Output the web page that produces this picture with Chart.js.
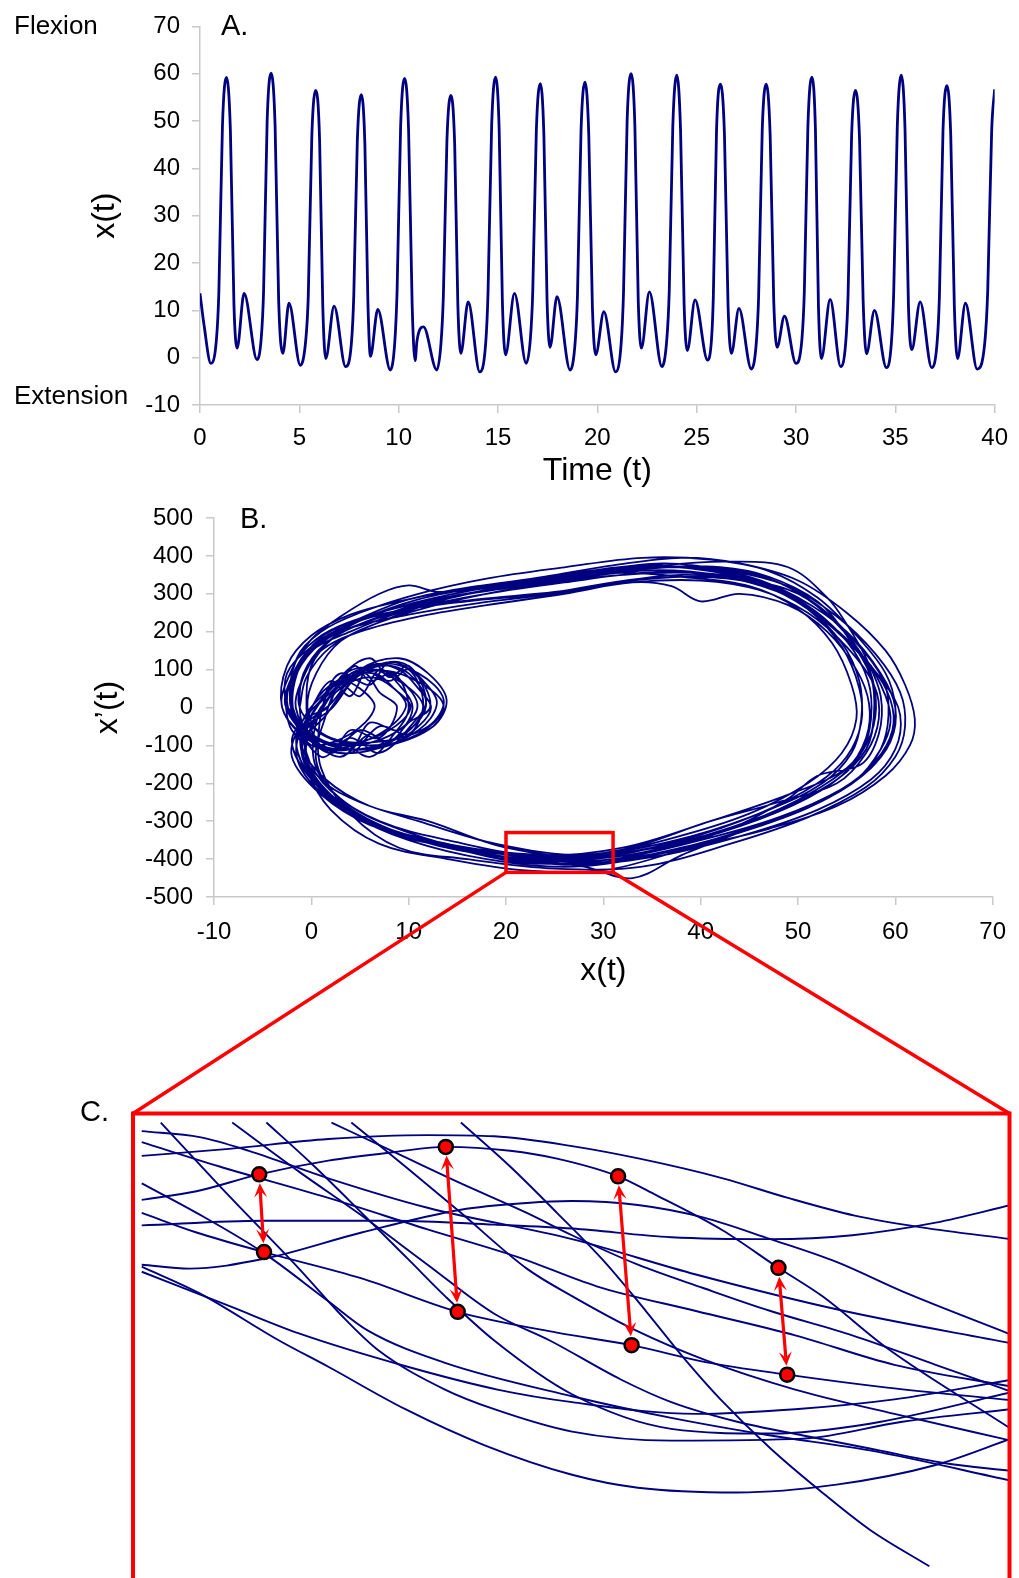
<!DOCTYPE html>
<html>
<head>
<meta charset="utf-8">
<script src="https://cdn.jsdelivr.net/npm/chart.js"></script>
<style>
  html, body { margin: 0; padding: 0; overflow: hidden; background: #fff; }
  #wrap { position: relative; width: 1019px; height: 1578px; font-family: "Liberation Sans", Arial, sans-serif; color: #000; }
  #wrap canvas { position: absolute; left: 0; }
  .lbl { position: absolute; white-space: nowrap; line-height: 1; transform: translateY(-50%); }
</style>
</head>
<body>
<div id="wrap">
  <canvas id="chartA" width="1019" height="490" style="top:0"></canvas>
  <canvas id="chartB" width="1019" height="500" style="top:490px"></canvas>
  <canvas id="chartC" width="1019" height="540" style="top:1104px"></canvas>
  <canvas id="overlay" width="1019" height="1578" style="top:0;pointer-events:none"></canvas>
  <div class="lbl" style="left:14px;top:25px;font-size:26px">Flexion</div>
  <div class="lbl" style="left:14px;top:395px;font-size:26px">Extension</div>
  <div class="lbl" style="left:221px;top:25px;font-size:29px">A.</div>
  <div class="lbl" style="left:240px;top:518px;font-size:29px">B.</div>
  <div class="lbl" style="left:80px;top:1111px;font-size:29px">C.</div>
</div>
<script>
// Panel A: joint angle over time (troughs, peaks, notches, humps)
const timeT = [
  0, 0.2, 0.55,
  0.83, 0.95, 1.13, 1.33, 1.53, 1.71, 1.87, 2.22, 2.87,
  3.08, 3.2, 3.38, 3.58, 3.78, 3.96, 4.17, 4.48, 5.05,
  5.33, 5.45, 5.63, 5.83, 6.02, 6.18, 6.33, 6.75, 7.33,
  7.62, 7.74, 7.92, 8.12, 8.3, 8.45, 8.58, 8.95, 9.58,
  9.8, 9.92, 10.1, 10.3, 10.5, 10.68, 10.83, 10.92, 11.25, 11.92,
  12.13, 12.25, 12.43, 12.63, 12.82, 12.98, 13.13, 13.5, 14.08,
  14.38, 14.5, 14.68, 14.88, 15.06, 15.22, 15.38, 15.83, 16.42,
  16.63, 16.75, 16.93, 17.13, 17.31, 17.47, 17.62, 17.97, 18.63,
  18.88, 19.0, 19.18, 19.38, 19.57, 19.75, 19.92, 20.33, 20.92,
  21.2, 21.32, 21.5, 21.7, 21.89, 22.06, 22.22, 22.62, 23.25,
  23.5, 23.62, 23.8, 24.0, 24.19, 24.37, 24.53, 24.92, 25.55,
  25.75, 25.84, 26.0, 26.2, 26.4, 26.58, 26.75, 27.13, 27.75,
  28.0, 28.12, 28.3, 28.5, 28.7, 28.88, 29.05, 29.42, 30.0,
  30.3, 30.42, 30.6, 30.8, 30.98, 31.13, 31.28, 31.72, 32.25,
  32.5, 32.62, 32.8, 33.0, 33.2, 33.38, 33.55, 33.95, 34.55,
  34.8, 34.92, 35.1, 35.3, 35.49, 35.66, 35.83, 36.25, 36.83,
  37.1, 37.22, 37.4, 37.6, 37.79, 37.97, 38.13, 38.53, 39.12,
  39.5, 39.65, 39.85, 40
];
const flexX = [
  13.6, 7, -1.2,
  4, 14, 49, 59.2, 48, 11, 2.0, 13.6, -0.4,
  4, 14, 50, 60.1, 49, 12, 0.9, 11.5, -1.6,
  4, 13, 47, 56.5, 46, 11, -0.2, 10.9, -1.9,
  3, 13, 46, 55.6, 45, 12, 0.3, 10.2, -2.6,
  3, 14, 49, 59.0, 48, 11, -0.6, 3.5, 6.5, -2.6,
  3, 13, 46, 55.4, 45, 11, 0.9, 11.8, -3.0,
  3, 14, 49, 59.3, 48, 12, 0.6, 13.6, -1.2,
  4, 14, 48, 57.9, 47, 12, 2.2, 12.9, -2.6,
  3, 13, 48, 58.2, 47, 11, 0.6, 9.7, -3.0,
  3, 14, 50, 60.0, 49, 12, 2.0, 13.9, -1.9,
  4, 14, 49, 59.7, 48, 11, 1.5, 12.2, -0.5,
  4, 13, 48, 57.8, 47, 11, 0.9, 10.4, -2.4,
  3, 13, 48, 57.8, 47, 12, 2.2, 8.8, -1.2,
  4, 14, 49, 59.3, 48, 11, -0.2, 12.3, -1.9,
  3, 13, 47, 56.5, 46, 12, 0.8, 10.0, -2.1,
  3, 14, 49, 59.7, 48, 11, 1.7, 11.8, -2.1,
  3, 13, 48, 57.5, 47, 11, -0.2, 11.5, -2.4,
  3, 14, 48, 56.7
];

// Panel B: phase portrait, one loop per movement cycle, [x(t), x'(t)]
const phaseLoops = [
  [[-1.2,0],[-0.5,80],[2,160],[6,215],[12,265],[19,305],[27,340],[35,362],[42,348],[48,305],[53,225],[57,125],[59,30],[59.5,-40],[58.5,-110],[56,-190],[50,-275],[42,-345],[33,-395],[24,-405],[15,-370],[8,-320],[3,-245],[0.5,-140],[1.5,-20],[2.5,40],[6,95],[10,80],[13.6,5],[11,-70],[6,-100],[1,-70],[-0.4,0]],
  [[-0.4,0],[0.5,90],[3,175],[7,225],[13,280],[20,320],[28,355],[36,380],[43,360],[49,320],[54,240],[58,140],[60.5,40],[61,-50],[60,-130],[57,-210],[51,-290],[43,-360],[34,-420],[25,-425],[16,-400],[9,-370],[4,-280],[1,-160],[0.9,-30],[2,50],[5,105],[9,70],[11.5,0],[9,-80],[4,-110],[0,-70],[-1.6,0]],
  [[-1.6,0],[-1,70],[1,150],[5,200],[11,240],[18,270],[26,300],[33,330],[37,320],[40,280],[44,300],[49,270],[53,200],[56,100],[57.3,10],[57,-80],[55,-160],[49,-230],[41,-300],[32,-370],[23,-390],[14,-350],[7,-300],[2,-220],[-0.5,-120],[-0.2,-15],[2,60],[6,100],[9,75],[10.9,0],[8,-75],[3,-100],[-0.5,-60],[-1.9,0]],
  [[-1.9,0],[-1.5,100],[1,185],[5,235],[10,285],[17,320],[25,345],[33,370],[40,365],[46,330],[51,260],[54.5,160],[56.3,50],[56.5,-40],[55,-130],[52,-200],[46,-280],[38,-350],[29,-395],[20,-370],[12,-300],[6,-260],[1.5,-190],[-1,-100],[0.3,-10],[3,70],[6.5,90],[8.5,50],[10.2,0],[8,-60],[4,-95],[0,-80],[-2.6,0]],
  [[-2.6,0],[-2,70],[0,150],[4,200],[9,250],[16,300],[24,335],[32,365],[39,370],[45,345],[50,290],[55,200],[58.5,90],[60,0],[59.5,-90],[57,-170],[52,-250],[45,-320],[38,-390],[33,-450],[28,-420],[20,-395],[12,-350],[6,-300],[1,-210],[-1.5,-110],[-0.6,-20],[1.5,40],[3,70],[5,50],[6.5,0],[4,-70],[0,-100],[-2,-60],[-2.6,0]],
  [[-2.6,0],[-2.5,90],[0,160],[5,230],[11,285],[18,320],[25,340],[32,355],[38,345],[45,320],[50,260],[53.5,170],[55.5,60],[56,-30],[54.5,-120],[51,-200],[45,-280],[37,-345],[28,-395],[19,-385],[11,-345],[5,-290],[0.5,-190],[-1,-90],[0.9,-10],[3,60],[7,110],[10,90],[11.8,10],[10,-60],[5,-110],[0,-90],[-3.0,0]],
  [[-3.0,0],[-2,100],[0,180],[3,240],[7,300],[10,322],[13,305],[18,315],[26,350],[34,375],[41,360],[47,325],[52,250],[56,150],[59,60],[60.5,-20],[60,-110],[57.5,-190],[52,-270],[44,-340],[35,-395],[26,-415],[17,-380],[10,-330],[4,-260],[0.5,-160],[0.6,-30],[3,60],[7,115],[11,90],[13.6,20],[12,-50],[7,-90],[2,-80],[-1.2,0]],
  [[-1.2,0],[-0.5,100],[2,180],[6,230],[12,280],[20,315],[28,345],[36,375],[43,385],[49,370],[53,290],[55,220],[57,130],[58.5,30],[58.3,-70],[56.5,-150],[52,-180],[49,-240],[43,-320],[35,-380],[26,-400],[17,-385],[9,-335],[3,-265],[0,-170],[-0.5,-60],[2.2,0],[5,90],[9,120],[11.5,70],[12.9,10],[11,-60],[6,-110],[1,-90],[-2.6,0]],
  [[-2.6,0],[-2,80],[0.5,165],[4,210],[10,245],[17,275],[25,300],[33,330],[40,335],[46,310],[51,250],[55,160],[57.8,60],[58.3,-30],[57,-120],[54,-200],[48,-250],[41,-300],[32,-375],[23,-395],[14,-360],[7,-310],[2,-230],[-0.5,-130],[0.5,-20],[3,50],[6,80],[8.5,50],[9.7,0],[7,-70],[2,-110],[-1,-70],[-3.0,0]],
  [[-3.0,0],[-2.5,110],[0,190],[4,245],[9,280],[16,315],[24,345],[31,375],[38,395],[44,380],[50,335],[55,250],[59,150],[61,60],[62,-30],[61.5,-100],[59,-180],[54,-260],[47,-320],[39,-370],[30,-430],[22,-430],[14,-400],[7,-360],[2,-270],[-0.5,-160],[-1,-60],[2,10],[5,100],[9,130],[12,90],[13.9,20],[12.5,-50],[8,-100],[3,-120],[0,-80],[-1.9,0]],
  [[-1.9,0],[-1,120],[1.5,195],[5,235],[10,270],[17,305],[25,330],[32,350],[39,355],[45,330],[50,280],[54,200],[57.5,110],[59.5,20],[59.7,-60],[58,-140],[54.5,-215],[48,-290],[40,-350],[31,-400],[22,-410],[13,-360],[6,-310],[1,-230],[-2,-130],[-1,-40],[1,20],[3,90],[6,60],[8,120],[11,80],[12.2,0],[10,-40],[8,-90],[5,-60],[2,-120],[0,-60],[-0.5,0]],
  [[-0.5,0],[0,110],[2.5,190],[6,240],[12,285],[19,320],[27,350],[35,370],[42,370],[47,345],[52,280],[55,190],[57.5,80],[57.8,-20],[57,-110],[54,-190],[49,-260],[42,-330],[33,-380],[24,-395],[15,-370],[8,-330],[3,-260],[-0.5,-170],[-1.5,-70],[0.9,-10],[3,60],[5,30],[7,100],[9,60],[10.4,0],[9,-60],[6,-40],[4,-110],[0,-90],[-2.4,0]],
  [[-2.4,0],[-2,80],[0,160],[4,220],[9,255],[16,280],[24,300],[31,330],[38,350],[45,335],[50,300],[54,220],[57,120],[58,20],[57.5,-70],[55.5,-150],[51,-230],[45,-300],[37,-360],[28,-390],[19,-360],[11,-300],[5,-250],[1,-190],[-1,-100],[1.5,-20],[3.5,50],[5.5,90],[7,40],[8.8,0],[7,-80],[4,-60],[2,-120],[-0.5,-70],[-1.2,0]],
  [[-1.2,0],[-0.8,90],[1.5,170],[5,220],[11,270],[18,310],[26,340],[34,365],[41,370],[47,340],[52,270],[56,170],[58.8,70],[59.3,-20],[58.5,-110],[56,-190],[51,-265],[44,-330],[36,-385],[27,-420],[18,-400],[10,-350],[4,-280],[0,-190],[-2,-90],[-0.2,-10],[2,70],[4,30],[6,110],[9,100],[11,50],[12.3,0],[11,-50],[8,-100],[6,-70],[3,-130],[0,-80],[-1.9,0]],
  [[-1.9,0],[-1.8,110],[0.5,180],[4,225],[10,260],[17,285],[25,305],[33,335],[40,345],[46,325],[51,260],[54.5,170],[56.3,70],[56.5,-30],[55.5,-120],[52.5,-200],[47,-270],[39,-340],[30,-385],[21,-385],[12,-350],[6,-300],[1.5,-220],[-1,-120],[0.8,-20],[2.5,50],[4.5,110],[6,70],[8.5,90],[10,0],[8.5,-70],[6,-130],[3,-90],[0,-100],[-2.1,0]],
  [[-2.1,0],[-1.5,130],[1,200],[5,250],[11,300],[18,340],[26,370],[34,395],[41,390],[47,360],[52,290],[56,190],[59,90],[60,0],[59.5,-80],[57.5,-160],[53,-240],[46,-310],[38,-370],[29,-410],[20,-400],[12,-355],[6,-305],[1,-225],[-1.5,-130],[-0.5,-30],[1.7,0],[3,80],[6,130],[8,80],[10,110],[11.8,20],[10.5,-40],[7,-120],[4,-80],[1,-130],[-2.1,0]],
  [[-2.1,0],[-1.5,90],[1,170],[5,220],[11,265],[18,300],[26,330],[34,355],[40,355],[46,330],[51,265],[55,175],[57.2,70],[57.5,-30],[56.5,-120],[53.5,-200],[48,-275],[40,-345],[31,-395],[22,-400],[13,-360],[7,-310],[2,-235],[-0.5,-140],[-0.2,-30],[2,40],[5,100],[8,70],[10,100],[11.5,10],[10,-70],[7,-50],[4,-120],[0,-90],[-2.4,0]]
];

// zoom window drawn on panel B
const zoomBoxX = [20, 31];
const zoomBoxY = [-435, -330];

// Panel C: trajectory pieces inside the zoom window, [x(t), x'(t)]
const zoomCurves = [
  [[20.11,-340.8],[21.21,-339],[22.46,-336.5],[23.71,-335.5],[24.55,-335.8],[25.53,-338.3],[26.38,-341.5],[27.43,-346.5],[28.25,-351.5],[29.09,-356],[29.93,-359],[31.06,-362]],
  [[20.11,-352],[20.80,-349.8],[21.59,-345.5],[22.46,-342],[23.30,-339.8],[23.94,-338.5],[24.75,-339.5],[25.34,-341.5],[26.11,-346],[26.59,-350.8],[27.43,-359.8],[28.13,-369.3],[28.68,-376.5],[29.50,-389.8],[31.06,-410.3]],
  [[20.11,-368.5],[20.71,-369.5],[21.65,-367],[22.88,-360.3],[24.13,-354.5],[24.96,-352.8],[25.53,-352.3],[26.36,-353.3],[27.19,-356.5],[28.03,-362],[28.86,-367.8],[29.69,-375.3],[31.06,-386.3]],
  [[20.11,-355.3],[20.80,-360.3],[21.65,-365.3],[22.88,-372],[24.09,-380.5],[25.34,-385.8],[26.28,-389],[27.21,-393.3],[28.24,-396.5],[29.50,-399.8],[31.06,-403]],
  [[20.11,-358.5],[21.63,-357.3],[23.30,-357.3],[24.55,-358.3],[25.53,-359.3],[26.78,-361.5],[28.03,-362],[29.06,-361],[30.11,-357.8],[31.06,-353.3]],
  [[20.11,-334.5],[20.84,-336],[21.46,-339.5],[22.46,-346.5],[23.71,-354],[25.53,-362],[27.09,-371],[28.96,-380.3],[31.06,-388.5]],
  [[20.11,-337.3],[21.09,-343.5],[22.46,-351.5],[23.71,-359.5],[24.84,-366.5],[25.84,-374],[27.09,-380.3],[28.34,-386.5],[29.59,-394],[31.06,-399.5]],
  [[20.35,-332.3],[21.21,-351],[22.09,-369.5],[22.63,-381.5],[23.09,-390.3],[23.93,-400.3],[24.55,-405.3],[25.53,-411],[26.78,-413.3],[28.44,-412.8],[29.69,-408.5],[31.06,-405.3]],
  [[20.11,-347.8],[20.80,-355.3],[21.63,-365.3],[22.46,-377.8],[22.96,-385.3],[23.93,-393.5],[25.53,-402],[26.78,-407.5],[28.03,-412],[29.28,-415.8],[31.06,-423.5]],
  [[21.68,-332.3],[22.25,-342.8],[22.88,-355.3],[23.50,-367.8],[23.93,-376.5],[24.55,-387.8],[25.53,-401.5],[26.78,-410.3],[28.03,-411.5],[29.28,-409],[31.06,-401]],
  [[21.25,-332.3],[22.09,-344.8],[22.88,-356],[23.71,-368.5],[24.55,-381],[25.25,-387.8],[26.15,-397.8],[26.78,-403.5],[27.61,-408.5],[28.44,-412],[29.28,-415.3],[30.21,-419],[31.06,-421]],
  [[22.50,-332.3],[23.34,-340.3],[24.13,-347.8],[24.96,-355.3],[25.53,-361],[26.36,-368.5],[27.19,-374.5],[28.03,-380.3],[29.06,-386.5],[30.11,-394],[31.06,-400.8]],
  [[24.13,-332.3],[24.75,-343.5],[25.34,-355.3],[25.94,-367.8],[26.46,-380.3],[26.96,-392.8],[27.40,-402.8],[28.03,-415.3],[28.65,-426],[29.28,-436],[30.03,-445.3]],
  [[22.75,-332.3],[23.46,-344],[24.13,-355.3],[24.96,-369.5],[25.53,-376.5],[26.34,-385.3],[27.21,-392.8],[28.34,-400.3],[29.59,-406.5],[31.06,-413.3]],
  [[20.11,-369],[20.84,-375.8],[21.84,-387.8],[22.46,-394.5],[23.43,-405.3],[24.43,-414.5],[25.53,-422],[26.36,-425.3],[27.61,-426.5],[28.86,-424.5],[30.11,-419.5],[31.06,-412.8]],
  [[20.11,-370.3],[21.21,-379],[22.09,-386],[23.46,-394.5],[24.59,-400.3],[25.53,-403.5],[27.09,-406.5],[28.34,-405.3],[29.59,-402.8],[31.06,-397.8]]
];

// marked point pairs in panel C (upper end, lower end)
const arrowTops = [[21.59,-345.5],[23.94,-338.5],[26.11,-346],[28.13,-369.3]];
const arrowBottoms = [[21.65,-365.3],[24.09,-380.5],[26.28,-389],[28.24,-396.5]];

const NAVY = '#000080';
const RED = '#ff0000';
const AXIS_GREY = '#c9c9c9';
const FONT = '"Liberation Sans", Arial, sans-serif';

Chart.defaults.font.family = FONT;
Chart.defaults.color = '#000';

function axis(min, max, step, extra) {
  return Object.assign({
    type: 'linear', min: min, max: max,
    ticks: { stepSize: step, font: { size: 24 }, color: '#000' },
    grid: { drawOnChartArea: false, drawTicks: true, tickLength: 8, color: AXIS_GREY, lineWidth: 1.5 },
    border: { color: AXIS_GREY, width: 1.5 }
  }, extra);
}

const baseOpts = {
  responsive: false,
  animation: false,
  events: [],
  plugins: { legend: { display: false }, tooltip: { enabled: false } }
};

// ---- A ----
const chartA = new Chart(document.getElementById('chartA'), {
  type: 'scatter',
  data: {
    datasets: [{
      data: timeT.map((t, i) => ({ x: t, y: flexX[i] })),
      showLine: true, pointRadius: 0, borderColor: NAVY, borderWidth: 2.8,
      cubicInterpolationMode: 'monotone'
    }]
  },
  options: Object.assign({}, baseOpts, {
    layout: { padding: { top: 26, right: 20, left: 0, bottom: 0 } },
    scales: {
      x: axis(0, 40, 5, {
        afterFit: s => { s.height = 85; },
        title: { display: true, text: 'Time (t)', font: { size: 32 }, padding: { top: 0, bottom: 0 } }
      }),
      y: axis(-10, 70, 10, {
        afterFit: s => { s.width = 200; },
        title: { display: true, text: 'x(t)', font: { size: 32 }, padding: { top: 86, bottom: 0 } }
      })
    }
  })
});
chartA.options.scales.x.ticks.padding = 11;
chartA.options.scales.y.ticks.padding = 12;
chartA.update();

// ---- B ----
const phasePts = phaseLoops.flatMap((loop, i) => (i ? loop.slice(1) : loop)).map(p => ({ x: p[0], y: p[1] }));
const chartB = new Chart(document.getElementById('chartB'), {
  type: 'scatter',
  data: {
    datasets: [{
      data: phasePts, showLine: true, pointRadius: 0,
      borderColor: NAVY, borderWidth: 1.8, tension: 0.35
    }]
  },
  options: Object.assign({}, baseOpts, {
    layout: { padding: { top: 28, right: 25, left: 0, bottom: 0 } },
    scales: {
      x: axis(-10, 70, 10, {
        afterFit: s => { s.height = 93; },
        title: { display: true, text: 'x(t)', font: { size: 32 }, padding: { top: 0, bottom: 0 } }
      }),
      y: axis(-500, 500, 100, {
        afterFit: s => { s.width = 214; },
        title: { display: true, text: 'x\u2019(t)', font: { size: 32 }, padding: { top: 89, bottom: 0 } }
      })
    }
  })
});
chartB.options.scales.x.ticks.padding = 13;
chartB.options.scales.y.ticks.padding = 13;
chartB.update();

// ---- C ----
function headAt(ctx, tx, ty, ang) {
  const len = 14, half = 6.5, notch = 8;
  const c = Math.cos(ang), s = Math.sin(ang);
  ctx.beginPath();
  ctx.moveTo(tx, ty);
  ctx.lineTo(tx - len * c + half * s, ty - len * s - half * c);
  ctx.lineTo(tx - notch * c, ty - notch * s);
  ctx.lineTo(tx - len * c - half * s, ty - len * s + half * c);
  ctx.closePath();
  ctx.fill();
}

const pairArrows = {
  id: 'pairArrows',
  afterDatasetDraw(chart, args) {
    if (args.index !== 1) return;
    const { ctx } = chart;
    const xs = chart.scales.x, ys = chart.scales.y;
    ctx.save();
    ctx.strokeStyle = RED; ctx.fillStyle = RED; ctx.lineWidth = 3.2;
    arrowTops.forEach((top, i) => {
      const bot = arrowBottoms[i];
      const x1 = xs.getPixelForValue(top[0]), y1 = ys.getPixelForValue(top[1]);
      const x2 = xs.getPixelForValue(bot[0]), y2 = ys.getPixelForValue(bot[1]);
      const ang = Math.atan2(y2 - y1, x2 - x1);
      const c = Math.cos(ang), s = Math.sin(ang), r = 9;
      const ax = x1 + r * c, ay = y1 + r * s, bx = x2 - r * c, by = y2 - r * s;
      ctx.beginPath();
      ctx.moveTo(ax + 8 * c, ay + 8 * s);
      ctx.lineTo(bx - 8 * c, by - 8 * s);
      ctx.stroke();
      headAt(ctx, ax, ay, ang + Math.PI);
      headAt(ctx, bx, by, ang);
    });
    ctx.restore();
  }
};

const chartC = new Chart(document.getElementById('chartC'), {
  type: 'scatter',
  data: {
    datasets: [{
      data: arrowTops.concat(arrowBottoms).map(p => ({ x: p[0], y: p[1] })),
      showLine: false, pointRadius: 7, pointBackgroundColor: RED,
      pointBorderColor: '#000', pointBorderWidth: 2.5
    }].concat(zoomCurves.map(curve => ({
      data: curve.map(p => ({ x: p[0], y: p[1] })),
      showLine: true, pointRadius: 0, borderColor: NAVY, borderWidth: 1.9,
      cubicInterpolationMode: 'monotone'
    })))
  },
  options: Object.assign({}, baseOpts, {
    layout: { padding: { top: 0, right: 3, left: 133, bottom: 20 } },
    scales: {
      x: { type: 'linear', display: false, min: 20, max: 31.04 },
      y: { type: 'linear', display: false, min: -460, max: -330 }
    }
  }),
  plugins: [pairArrows]
});

// ---- zoom box on B, connectors and frame of C ----
(function drawZoomFrame() {
  const ctx = document.getElementById('overlay').getContext('2d');
  const bTop = 490, cTop = 1104;
  const xs = chartB.scales.x, ys = chartB.scales.y;
  const l = xs.getPixelForValue(zoomBoxX[0]), r = xs.getPixelForValue(zoomBoxX[1]);
  const t = bTop + ys.getPixelForValue(zoomBoxY[1]), b = bTop + ys.getPixelForValue(zoomBoxY[0]);
  const area = chartC.chartArea;
  const cl = area.left, cr = area.right, ct = cTop + area.top, cb = cTop + area.bottom;
  ctx.strokeStyle = RED;
  ctx.lineWidth = 3.5;
  ctx.strokeRect(l, t, r - l, b - t);
  ctx.beginPath();
  ctx.moveTo(l, b); ctx.lineTo(cl, ct);
  ctx.moveTo(r, b); ctx.lineTo(cr, ct);
  ctx.stroke();
  ctx.lineWidth = 4;
  ctx.strokeRect(cl, ct, cr - cl, cb - ct);
})();
</script>
</body>
</html>
